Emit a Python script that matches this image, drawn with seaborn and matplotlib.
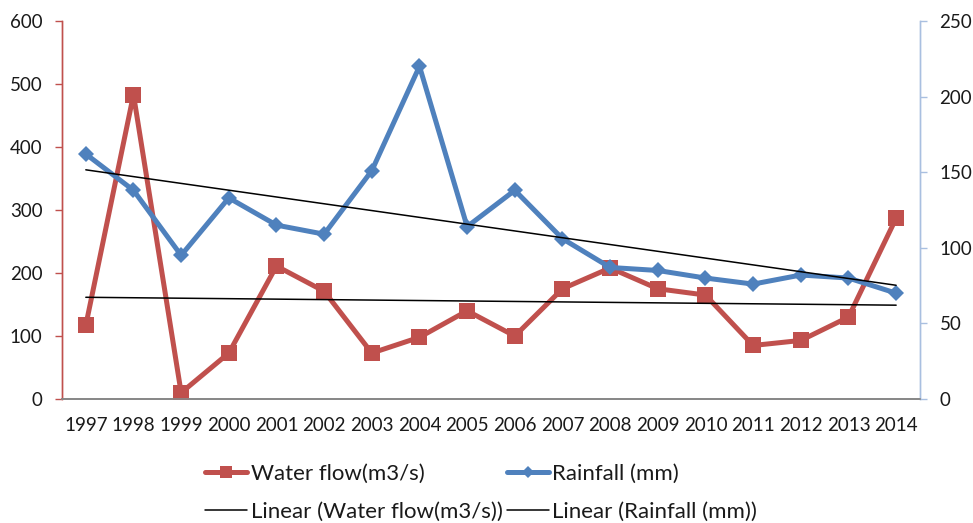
import numpy as np
import pandas as pd
import matplotlib
matplotlib.use("Agg")
import matplotlib.pyplot as plt
from matplotlib.lines import Line2D
from matplotlib.ticker import MultipleLocator
import seaborn as sns

years = list(range(1997, 2015))
water_flow = [117, 483, 10, 73, 211, 171, 73, 98, 140, 100, 175, 208, 175, 165, 85, 93, 130, 287]
rainfall = [162, 138, 95, 133, 115, 109, 151, 220, 114, 138, 106, 87, 85, 80, 76, 82, 80, 70]

RED = "#c0504d"
BLUE = "#4f81bd"
TEXT = "#1a1a1a"

sns.set_theme(style="white")
plt.rcParams["font.family"] = ["Lato", "DejaVu Sans"]

df = pd.DataFrame({"year": years, "water": water_flow, "rain": rainfall})

fig = plt.figure(figsize=(9.73, 5.23), dpi=100)
ax = fig.add_axes([0.0637, 0.237, 0.8818, 0.723])
ax2 = ax.twinx()

sns.lineplot(data=df, x="year", y="water", ax=ax, color=RED, lw=3.6,
             marker="s", markersize=11, markeredgewidth=0, zorder=3)
sns.lineplot(data=df, x="year", y="rain", ax=ax2, color=BLUE, lw=3.6,
             marker="D", markersize=8.2, markeredgewidth=0, zorder=3)

# linear trend lines
x = np.array(years, dtype=float)
cw = np.polyfit(x, water_flow, 1)
cr = np.polyfit(x, rainfall, 1)
xe = np.array([years[0], years[-1]], dtype=float)
ax.plot(xe, np.polyval(cw, xe), color="black", lw=1.1, zorder=4)
ax2.plot(xe, np.polyval(cr, xe), color="black", lw=1.1, zorder=4)

ax.set_xlim(years[0] - 0.5, years[-1] + 0.5)
ax.set_ylim(0, 600)
ax2.set_ylim(0, 250)
ax.yaxis.set_major_locator(MultipleLocator(100))
ax2.yaxis.set_major_locator(MultipleLocator(50))
ax.set_xticks(years)
ax.set_xticklabels([str(y) for y in years])
ax.set_xticks(np.arange(years[0] - 0.5, years[-1] + 1.0, 1.0), minor=True)
ax.tick_params(axis="x", which="major", length=0, labelsize=13.5, pad=13, colors=TEXT)
ax.tick_params(axis="x", which="minor", length=6, width=1, color="#888888", direction="out")
ax.tick_params(axis="y", length=5, width=1, color=RED, direction="out", labelsize=13.5,
               pad=9, labelcolor=TEXT, left=True)
ax2.tick_params(axis="y", length=5, width=1, color="#a9bfe0", direction="out", labelsize=13.5,
                pad=9, labelcolor=TEXT, right=True)
ax.set_xlabel("")
ax.set_ylabel("")
ax2.set_ylabel("")
ax.grid(False)
ax2.grid(False)

for a in (ax, ax2):
    a.spines["top"].set_visible(False)
    a.spines["bottom"].set_color("#888888")
    a.spines["left"].set_color(RED)
    a.spines["right"].set_color("#a9bfe0")
    a.spines["left"].set_linewidth(1)
    a.spines["right"].set_linewidth(1)

handles = [
    Line2D([], [], color=RED, lw=3.6, marker="s", markersize=9, markeredgewidth=0),
    Line2D([], [], color="black", lw=1.1),
    Line2D([], [], color=BLUE, lw=3.6, marker="D", markersize=6.5, markeredgewidth=0),
    Line2D([], [], color="black", lw=1.1),
]
labels = ["Water flow(m3/s)", "Linear (Water flow(m3/s))",
          "Rainfall (mm)", "Linear (Rainfall (mm))"]
fig.legend(handles, labels, ncol=2, loc="center left",
           bbox_to_anchor=(205 / 973, 1 - 492.5 / 523), frameon=False, fontsize=16,
           handlelength=1.9, handletextpad=0.15, columnspacing=0.2,
           labelspacing=0.8, borderpad=0, borderaxespad=0, labelcolor=TEXT)

fig.savefig("out.png", dpi=100)
